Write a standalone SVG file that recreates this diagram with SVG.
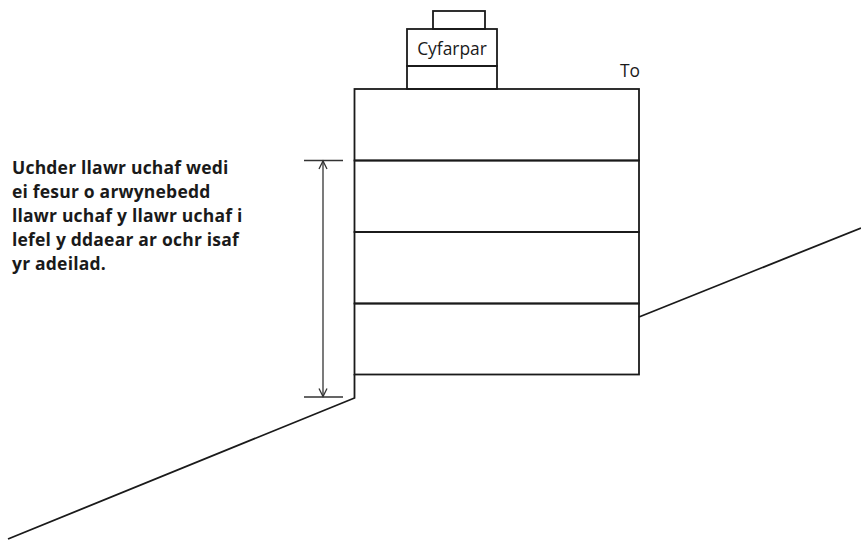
<svg xmlns="http://www.w3.org/2000/svg" width="861" height="540" viewBox="0 0 861 540">
<style>
.l{fill:none;stroke:#1a1a1a;stroke-width:1.8}
.d{fill:none;stroke:#333;stroke-width:1.3}
text{font-family:"Open Sans","Liberation Sans",sans-serif;fill:#1a1a1a}
.b{font-size:17.5px;font-weight:700;letter-spacing:.2px}
.r{font-size:17.4px}
</style>
<defs><marker id="a" markerWidth="12" markerHeight="12" refX="9" refY="5" orient="auto-start-reverse" markerUnits="userSpaceOnUse"><path d="M1 1L9 5L1 9" fill="none" stroke="#333" stroke-width="1.3"/></marker></defs>
<rect width="861" height="540" fill="#fff"/>
<g id="equipment-top"><rect class="l" x="433" y="11" width="52" height="18"/></g>
<g id="equipment"><rect class="l" x="407" y="29" width="90" height="37"/><text class="r" x="452" y="55" text-anchor="middle">Cyfarpar</text></g>
<g id="equipment-base"><rect class="l" x="407" y="66" width="90" height="23"/></g>
<g id="floor-4"><rect class="l" x="354.500" y="89" width="284.500" height="71.500"/></g>
<g id="floor-3"><rect class="l" x="354.500" y="160.500" width="284.500" height="71.500"/></g>
<g id="floor-2"><rect class="l" x="354.500" y="232" width="284.500" height="71.500"/></g>
<g id="floor-1"><rect class="l" x="354.500" y="303.500" width="284.500" height="71"/></g>
<g id="top-label"><text class="r" x="620" y="77">To</text></g>
<g id="description">
<text class="b" x="12" y="174">Uchder llawr uchaf wedi</text>
<text class="b" x="12" y="198">ei fesur o arwynebedd</text>
<text class="b" x="12" y="222">llawr uchaf y llawr uchaf i</text>
<text class="b" x="12" y="246">lefel y ddaear ar ochr isaf</text>
<text class="b" x="12" y="270">yr adeilad.</text>
</g>
<g id="connectors">
<path class="l" d="M354.500 374V398L8 539"/>
<path class="l" d="M639 317L861 228"/>
<path class="d" d="M304 160.500H343M304 397H343"/>
<path class="d" d="M323 161V396.500" marker-start="url(#a)" marker-end="url(#a)"/>
</g>
</svg>
